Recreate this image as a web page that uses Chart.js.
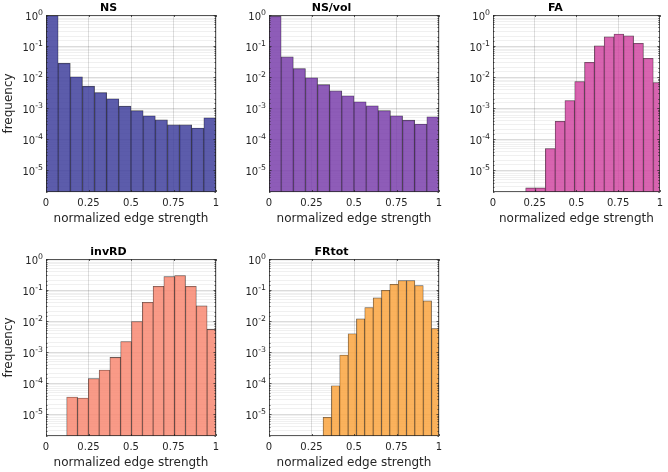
<!DOCTYPE html>
<html><head><meta charset="utf-8">
<script src="https://cdn.jsdelivr.net/npm/chart.js@4/dist/chart.umd.min.js"></script>
<style>
html,body{margin:0;padding:0;background:#fff;width:668px;height:472px;overflow:hidden;}
canvas{position:absolute;}
</style></head><body>
<script>
// ---- data ----
const titles = ['NS', 'NS/vol', 'FA', 'invRD', 'FRtot'];
const xTitle = 'normalized edge strength';
const yTitle = 'frequency';
const xTickValues = [0, 0.25, 0.5, 0.75, 1];
const xTickLabels = ['0', '0.25', '0.5', '0.75', '1'];
const yTickValues = [1, 0.1, 0.01, 0.001, 0.0001, 0.00001];
const yTickBase = '10';
const yTickExponents = ['0', '-1', '-2', '-3', '-4', '-5'];
const yMin = 2e-6, yMax = 1;

const nsEdges = [0, 0.0714, 0.1429, 0.2143, 0.2857, 0.3571, 0.4286, 0.5, 0.5714, 0.6429, 0.7143, 0.7857, 0.8571, 0.9286, 1.0];
const nsFreq = [0.95, 0.028, 0.0102, 0.0051, 0.0032, 0.0020, 0.00116, 0.00083, 0.00057, 0.00042, 0.00029, 0.00029, 0.00023, 0.00049];

const nsvolEdges = [0, 0.0714, 0.1429, 0.2143, 0.2857, 0.3571, 0.4286, 0.5, 0.5714, 0.6429, 0.7143, 0.7857, 0.8571, 0.9286, 1.0];
const nsvolFreq = [0.91, 0.0448, 0.0189, 0.0095, 0.0057, 0.0036, 0.0025, 0.0016, 0.0012, 0.00083, 0.00057, 0.00041, 0.00031, 0.00053];

const faEdges = [0.196, 0.2548, 0.3136, 0.3724, 0.4312, 0.49, 0.5488, 0.6076, 0.6664, 0.7252, 0.784, 0.8428, 0.9016, 0.9604, 1.0192];
const faFreq = [2.7e-6, 2.7e-6, 5.0e-5, 3.8e-4, 1.77e-3, 7.2e-3, 0.030, 0.101, 0.197, 0.245, 0.212, 0.123, 0.0406, 0.0067];

const invrdEdges = [0.122, 0.1855, 0.249, 0.3125, 0.376, 0.4395, 0.503, 0.5665, 0.63, 0.6935, 0.757, 0.8205, 0.884, 0.9475, 1.011];
const invrdFreq = [3.6e-5, 3.35e-5, 1.4e-4, 2.65e-4, 6.8e-4, 2.2e-3, 9.7e-3, 0.0406, 0.132, 0.271, 0.292, 0.132, 0.031, 0.0054];

const frtotEdges = [0.318, 0.3671, 0.4162, 0.4653, 0.5144, 0.5635, 0.6126, 0.6617, 0.7108, 0.7599, 0.809, 0.8581, 0.9072, 0.9563, 1.0054];
const frtotFreq = [8.0e-6, 8.3e-5, 8.05e-4, 3.9e-3, 0.0118, 0.0273, 0.0559, 0.0986, 0.153, 0.201, 0.201, 0.139, 0.0448, 0.0058];

// ---- styling / layout ----
const panels = [
  {edges: nsEdges, freq: nsFreq, color: 'rgba(63,63,156,0.85)', left: 1, top: 0, width: 225, padR: 10, ylab: true},
  {edges: nsvolEdges, freq: nsvolFreq, color: 'rgba(122,64,171,0.85)', left: 224, top: 0, width: 225, padR: 10, ylab: false},
  {edges: faEdges, freq: faFreq, color: 'rgba(209,73,162,0.85)', left: 448, top: 0, width: 220, padR: 5, ylab: false},
  {edges: invrdEdges, freq: invrdFreq, color: 'rgba(248,136,114,0.85)', left: 1, top: 244, width: 225, padR: 10, ylab: true},
  {edges: frtotEdges, freq: frtotFreq, color: 'rgba(250,164,63,0.85)', left: 224, top: 244, width: 225, padR: 10, ylab: false}
];
const FONT = "'DejaVu Sans', sans-serif";
const TXT = '#262626';

function isDecade(v) {
  const l = Math.log10(v);
  return Math.abs(l - Math.round(l)) < 1e-6;
}

const boxPlugin = {
  id: 'box',
  afterDatasetsDraw(chart) {
    const {ctx, chartArea: {left, top, right, bottom}} = chart;
    const xs = chart.scales.x, ys = chart.scales.y;
    ctx.save();
    ctx.strokeStyle = 'rgba(38,38,38,0.75)';
    ctx.lineWidth = 1;
    ctx.beginPath();
    xTickValues.forEach(v => {
      const px = Math.round(xs.getPixelForValue(v)) + 0.5;
      ctx.moveTo(px, bottom); ctx.lineTo(px, bottom - 2);
      ctx.moveTo(px, top); ctx.lineTo(px, top + 2);
    });
    ys.ticks.forEach(t => {
      const py = Math.round(ys.getPixelForValue(t.value)) + 0.5;
      const len = isDecade(t.value) ? 2.5 : 1.5;
      ctx.moveTo(left, py); ctx.lineTo(left + len, py);
      ctx.moveTo(right, py); ctx.lineTo(right - len, py);
    });
    ctx.stroke();
    ctx.strokeRect(Math.round(left) + 0.5, Math.round(top) + 0.5, Math.round(right - left) - 1, Math.round(bottom - top) - 1);
    // y tick labels with superscript exponents
    ctx.fillStyle = TXT;
    ctx.textBaseline = 'middle';
    ctx.textAlign = 'left';
    yTickValues.forEach((v, i) => {
      const py = ys.getPixelForValue(v);
      ctx.font = "7.8px " + FONT;
      const ew = ctx.measureText(yTickExponents[i]).width;
      ctx.font = "10px " + FONT;
      const bw = ctx.measureText(yTickBase).width;
      const xr = left - 3;
      ctx.fillText(yTickBase, xr - ew - bw, py + 2.5);
      ctx.font = "7.8px " + FONT;
      ctx.fillText(yTickExponents[i], xr - ew, py - 2.5);
    });
    ctx.restore();
  }
};

panels.forEach((p, k) => {
  const cv = document.createElement('canvas');
  cv.width = p.width; cv.height = 226;
  cv.style.left = p.left + 'px'; cv.style.top = p.top + 'px';
  cv.style.width = p.width + 'px'; cv.style.height = '226px';
  document.body.appendChild(cv);
  const data = p.freq.map((v, i) => ({x: (p.edges[i] + p.edges[i + 1]) / 2, y: v}));
  new Chart(cv, {
    type: 'bar',
    data: {datasets: [{
      data: data,
      backgroundColor: p.color,
      borderColor: 'rgba(30,30,30,0.8)',
      borderWidth: {top: 0.6, left: 0.6, right: 0.6, bottom: 0},
      borderSkipped: false,
      categoryPercentage: 1,
      barPercentage: 1,
      clip: 0
    }]},
    options: {
      responsive: false,
      animation: false,
      devicePixelRatio: 1,
      layout: {padding: {left: 0, right: p.padR, top: 0, bottom: 0}},
      plugins: {
        legend: {display: false},
        tooltip: {enabled: false},
        title: {display: true, text: titles[k], color: '#000',
          font: {family: FONT, size: 11, weight: 'bold', lineHeight: '13px'},
          padding: {top: 2, bottom: 0}}
      },
      scales: {
        x: {
          type: 'linear', min: 0, max: 1, offset: false,
          afterBuildTicks: (s) => { s.ticks = xTickValues.map(v => ({value: v})); },
          afterFit: (s) => { s.height = 34; },
          grid: {color: 'rgba(0,0,0,0.13)', drawTicks: false, lineWidth: 1, offset: false},
          border: {display: false},
          ticks: {
            autoSkip: false, maxRotation: 0, padding: 5, color: TXT,
            font: {family: FONT, size: 10},
            callback: (v) => { const i = xTickValues.indexOf(v); return i >= 0 ? xTickLabels[i] : ''; }
          },
          title: {display: true, text: xTitle, color: TXT, font: {family: FONT, size: 12}, padding: {top: 0, bottom: 0}}
        },
        y: {
          type: 'logarithmic', min: yMin, max: yMax,
          afterFit: (s) => { s.width = 45; },
          grid: {
            drawTicks: false, lineWidth: 1,
            color: (c) => (c.tick && isDecade(c.tick.value)) ? 'rgba(0,0,0,0.14)' : 'rgba(0,0,0,0.06)'
          },
          border: {display: false},
          ticks: {
            autoSkip: false, padding: 3, color: TXT,
            font: {family: FONT, size: 10},
            callback: () => ''
          },
          title: {display: p.ylab, text: yTitle, color: TXT, font: {family: FONT, size: 12}, padding: {top: 1, bottom: 0}}
        }
      }
    },
    plugins: [boxPlugin]
  });
});
</script>
</body></html>
